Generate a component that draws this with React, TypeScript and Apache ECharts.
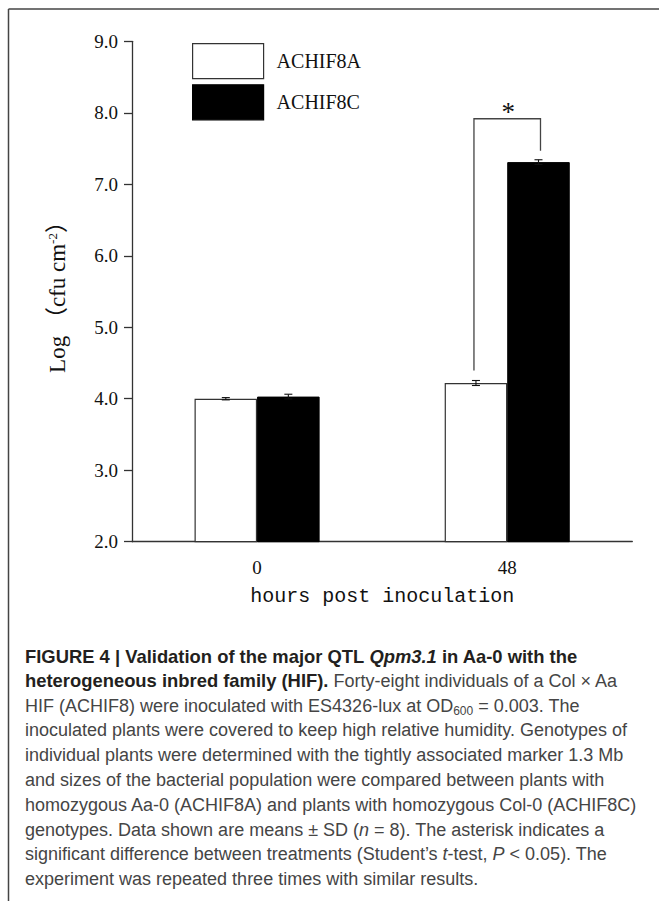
import React, { useEffect, useRef } from "react";
import * as echarts from "echarts";

const categories = ["0", "48"];
const seriesNames = ["ACHIF8A", "ACHIF8C"];
const meanA = [4.0, 4.22];
const sdA = [0.016, 0.035];
const meanC = [4.03, 7.31];
const sdC = [0.033, 0.033];
const yMin = 2;
const yMax = 9;
const yInterval = 1;
const significantCategories = [1];
const xAxisTitle = "hours post inoculation";

const captionLines: [string, string][][] = [
  [["b", "FIGURE 4 | Validation of the major QTL "], ["bi", "Qpm3.1"], ["b", " in Aa-0 with the"]],
  [["b", "heterogeneous inbred family (HIF)."], ["r", " Forty-eight individuals of a Col × Aa"]],
  [["r", "HIF (ACHIF8) were inoculated with ES4326-lux at OD"], ["sub", "600"], ["r", " = 0.003. The"]],
  [["r", "inoculated plants were covered to keep high relative humidity. Genotypes of"]],
  [["r", "individual plants were determined with the tightly associated marker 1.3 Mb"]],
  [["r", "and sizes of the bacterial population were compared between plants with"]],
  [["r", "homozygous Aa-0 (ACHIF8A) and plants with homozygous Col-0 (ACHIF8C)"]],
  [["r", "genotypes. Data shown are means ± SD ("], ["i", "n"], ["r", " = 8). The asterisk indicates a"]],
  [["r", "significant difference between treatments (Student’s "], ["i", "t"], ["r", "-test, "], ["i", "P"], ["r", " < 0.05). The"]],
  [["r", "experiment was repeated three times with similar results."]],
];

const SERIF = "'Liberation Serif', 'Noto Sans CJK SC', serif";
const SANS = "'Liberation Sans', Arial, sans-serif";

export default function App() {
  const ref = useRef<HTMLDivElement>(null);
  useEffect(() => {
    if (!ref.current) return;
    const chart = echarts.init(ref.current, null, { renderer: "svg" });

    const capSize = 18.0;
    const boldSize = 18.4;
    const capRich: any = {
      b: { fontFamily: SANS, fontSize: boldSize, fontWeight: "bold", fill: "#231f20", lineHeight: 22 },
      bi: { fontFamily: SANS, fontSize: boldSize, fontWeight: "bold", fontStyle: "italic", fill: "#231f20", lineHeight: 22 },
      r: { fontFamily: SANS, fontSize: capSize, fill: "#454545", lineHeight: 22 },
      i: { fontFamily: SANS, fontSize: capSize, fontStyle: "italic", fill: "#454545", lineHeight: 22 },
      sub: { fontFamily: SANS, fontSize: 12, fill: "#454545", lineHeight: 14, verticalAlign: "bottom" },
    };
    const captionY0 = 656;
    const captionStep = 24.8;
    const captionGraphics = captionLines.map((line, k) => ({
      type: "text",
      x: 25,
      y: captionY0 + k * captionStep,
      style: {
        text: line.map(([s, t]) => `{${s}|${t}}`).join(""),
        rich: capRich,
        verticalAlign: "middle",
        align: "left",
      },
    }));

    const frame = [
      { type: "line", shape: { x1: 8.5, y1: 9, x2: 659, y2: 9 }, style: { stroke: "#444", lineWidth: 1.5 } },
      { type: "line", shape: { x1: 8.5, y1: 9, x2: 8.5, y2: 901 }, style: { stroke: "#444", lineWidth: 1.5 } },
    ];

    const errData = [
      ...categories.map((_, i) => [i, meanA[i], sdA[i], 0]),
      ...categories.map((_, i) => [i, meanC[i], sdC[i], 1]),
    ];

    const bracketData = significantCategories.map((i) => [i, meanA[i] + sdA[i], meanC[i] + sdC[i]]);

    const option: any = {
      animation: false,
      backgroundColor: "#fff",
      grid: { left: 132, right: 26.7, top: 41.3, bottom: 359.3, containLabel: false },
      legend: {
        orient: "vertical",
        left: 192,
        top: 43,
        padding: 0,
        itemWidth: 71,
        itemHeight: 35,
        itemGap: 5,
        selectedMode: false,
        icon: "rect",
        itemStyle: { borderWidth: 1.2 },
        textStyle: { fontFamily: SERIF, fontSize: 20, color: "#111", padding: [0, 0, 0, 8] },
        data: seriesNames,
      },
      xAxis: {
        type: "category",
        data: categories,
        boundaryGap: true,
        axisLine: { lineStyle: { color: "#333", width: 1.3 } },
        axisTick: { alignWithLabel: true, length: 8, inside: false, lineStyle: { color: "#333", width: 1.3 } },
        axisLabel: { fontFamily: SERIF, fontSize: 19, color: "#111", margin: 16 },
        name: xAxisTitle,
        nameLocation: "middle",
        nameGap: 45,
        nameTextStyle: { fontFamily: "'Liberation Mono', monospace", fontSize: 20, color: "#111" },
      },
      yAxis: {
        type: "value",
        min: yMin,
        max: yMax,
        interval: yInterval,
        splitLine: { show: false },
        axisLine: { show: true, lineStyle: { color: "#333", width: 1.3 } },
        axisTick: { show: true, length: 8, inside: false, lineStyle: { color: "#333", width: 1.3 } },
        axisLabel: {
          fontFamily: SERIF,
          fontSize: 19,
          color: "#111",
          margin: 14,
          formatter: (v: number) => v.toFixed(1),
        },
        name: "Log （cfu cm{sup|-2}）",
        nameLocation: "middle",
        nameRotate: 90,
        nameGap: 63,
        nameTextStyle: {
          fontFamily: SERIF,
          fontSize: 23,
          color: "#111",
          rich: {
            sup: { fontFamily: SERIF, fontSize: 13, color: "#111", verticalAlign: "top", lineHeight: 12 },
          },
        },
      },
      series: [
        {
          name: seriesNames[0],
          type: "bar",
          data: meanA,
          barGap: "0%",
          barCategoryGap: "50%",
          itemStyle: { color: "#fff", borderColor: "#333", borderWidth: 1.2 },
        },
        {
          name: seriesNames[1],
          type: "bar",
          data: meanC,
          barGap: "0%",
          barCategoryGap: "50%",
          itemStyle: { color: "#000", borderColor: "#000", borderWidth: 1 },
        },
        {
          type: "custom",
          z: 5,
          silent: true,
          data: errData,
          renderItem: (params: any, api: any) => {
            const x = api.value(0);
            const mean = api.value(1);
            const sd = api.value(2);
            const side = api.value(3);
            const bw = api.size([1, 0])[0];
            const c = api.coord([x, mean]);
            const cx = c[0] + (side === 0 ? -1 : 1) * bw * 0.125;
            const top = api.coord([x, mean + sd])[1];
            const bot = api.coord([x, mean - sd])[1];
            const hw = 4;
            const st = { stroke: "#111", lineWidth: 1.1 };
            return {
              type: "group",
              children: [
                { type: "line", shape: { x1: cx, y1: top, x2: cx, y2: bot }, style: st },
                { type: "line", shape: { x1: cx - hw, y1: top, x2: cx + hw, y2: top }, style: st },
                { type: "line", shape: { x1: cx - hw, y1: bot, x2: cx + hw, y2: bot }, style: st },
              ],
            };
          },
        },
        {
          type: "custom",
          z: 5,
          silent: true,
          data: bracketData,
          renderItem: (params: any, api: any) => {
            const x = api.value(0);
            const a = api.value(1);
            const b = api.value(2);
            const bw = api.size([1, 0])[0];
            const cx = api.coord([x, a])[0];
            const lx = cx - bw * 0.125 - 2;
            const rx = cx + bw * 0.125 + 2;
            const ly = api.coord([x, a])[1] - 10;
            const ry = api.coord([x, b])[1] - 9;
            const ty = Math.min(ly, ry) - 32;
            return {
              type: "group",
              children: [
                {
                  type: "polyline",
                  shape: { points: [[lx, ly], [lx, ty], [rx, ty], [rx, ry]] },
                  style: { stroke: "#444", lineWidth: 1.3, fill: "none" },
                },
                {
                  type: "text",
                  x: cx + 1,
                  y: ty + 7,
                  style: {
                    text: "*",
                    fontFamily: SERIF,
                    fontSize: 27,
                    fill: "#111",
                    align: "center",
                    verticalAlign: "bottom",
                  },
                },
              ],
            };
          },
        },
      ],
      graphic: [...frame, ...captionGraphics],
    };

    chart.setOption(option);
    return () => chart.dispose();
  }, []);

  return (
    <div
      ref={ref}
      style={{ position: "fixed", left: 0, top: 0, width: 659, height: 901, background: "#fff" }}
    />
  );
}
